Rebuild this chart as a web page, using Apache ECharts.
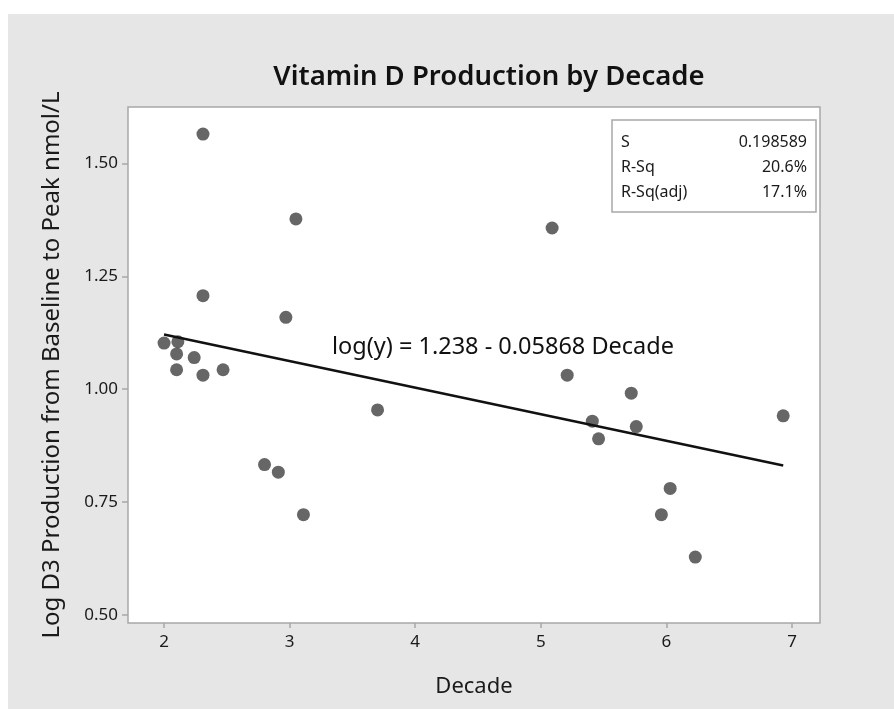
<!DOCTYPE html>
<html>
<head>
<meta charset="utf-8">
<script src="https://cdn.jsdelivr.net/npm/echarts@6/dist/echarts.min.js"></script>
<style>
  body { margin: 0; background: #fff; }
  #panel { position: absolute; left: 8px; top: 14px; width: 886px; height: 695px; background: #e6e6e6; }
  #chart { position: absolute; left: 0; top: 0; width: 894px; height: 709px; }
</style>
</head>
<body>
<div id="panel"></div>
<div id="chart"></div>
<script>
// scatter points
const decade = [2.31, 3.05, 2.31, 2.97, 2.00, 2.11, 2.10, 2.24, 2.10, 2.31, 2.47, 2.80, 2.91, 3.11, 3.70,
                5.09, 5.21, 5.72, 5.41, 5.76, 5.46, 6.93, 6.03, 5.96, 6.23];
const logD3 = [1.565, 1.377, 1.207, 1.159, 1.102, 1.105, 1.078, 1.070, 1.043, 1.031, 1.043, 0.833, 0.816, 0.722, 0.954,
               1.357, 1.031, 0.991, 0.929, 0.917, 0.890, 0.941, 0.780, 0.722, 0.628];
// fitted line end points
const fitX = [2.00, 6.93];
const fitY = [1.121, 0.831];

const xTicks = [2, 3, 4, 5, 6, 7];
const yTicks = [0.50, 0.75, 1.00, 1.25, 1.50];

const statNames = ['S', 'R-Sq', 'R-Sq(adj)'];
const statValues = ['0.198589', '20.6%', '17.1%'];
const equation = 'log(y) = 1.238 - 0.05868 Decade';

const font = 'Noto Sans';

const chart = echarts.init(document.getElementById('chart'));

// stats box in the top right corner
const statTexts = [];
statNames.forEach((name, i) => {
  statTexts.push({
    type: 'text', x: 621, y: 142 + i * 25,
    style: { text: name, font: '16px "' + font + '"', fill: '#1a1a1a', textVerticalAlign: 'middle' }
  });
  statTexts.push({
    type: 'text', x: 807, y: 142 + i * 25,
    style: { text: statValues[i], font: '16px "' + font + '"', fill: '#1a1a1a', textAlign: 'right', textVerticalAlign: 'middle' }
  });
});

const option = {
  animation: false,
  grid: {
    left: 128,
    top: 107,
    width: 692,
    height: 516,
    show: true,
    backgroundColor: '#fff',
    borderColor: '#a8a8a8',
    borderWidth: 1.5,
  },
  xAxis: {
    type: 'value',
    min: 1.713,
    max: 7.223,
    name: 'Decade',
    nameLocation: 'middle',
    nameGap: 53,
    nameTextStyle: { fontFamily: font, fontSize: 22, color: '#1a1a1a' },
    axisLine: { show: false },
    splitLine: { show: false },
    axisTick: {
      show: true, length: 5, customValues: xTicks,
      lineStyle: { color: '#a8a8a8', width: 1.5 }
    },
    axisLabel: {
      customValues: xTicks, margin: 11,
      fontFamily: font, fontSize: 17, color: '#1a1a1a'
    },
  },
  yAxis: {
    type: 'value',
    min: 0.482,
    max: 1.625,
    name: 'Log D3 Production from Baseline to Peak nmol/L',
    nameLocation: 'middle',
    nameRotate: 90,
    nameGap: 64,
    nameTextStyle: { fontFamily: font, fontSize: 24, color: '#1a1a1a' },
    axisLine: { show: false },
    splitLine: { show: false },
    axisTick: {
      show: true, length: 6, customValues: yTicks,
      lineStyle: { color: '#a8a8a8', width: 1.5 }
    },
    axisLabel: {
      customValues: yTicks, margin: 10,
      fontFamily: font, fontSize: 17, color: '#1a1a1a',
      formatter: (v) => v.toFixed(2),
    },
  },
  graphic: [
    {
      type: 'text', x: 489, y: 77,
      style: {
        text: 'Vitamin D Production by Decade',
        font: '600 27.5px "' + font + '"', fill: '#111',
        textAlign: 'center', textVerticalAlign: 'middle'
      }
    },
    {
      type: 'text', x: 503, y: 347,
      style: {
        text: equation, font: '23.5px "' + font + '"', fill: '#111',
        textAlign: 'center', textVerticalAlign: 'middle'
      }
    },
    {
      type: 'rect',
      shape: { x: 612, y: 120, width: 204, height: 92 },
      style: { fill: '#fff', stroke: '#a8a8a8', lineWidth: 1.5 }
    },
    ...statTexts
  ],
  series: [
    {
      type: 'scatter',
      symbolSize: 13,
      itemStyle: { color: '#404040' },
      data: decade.map((d, i) => [d, logD3[i]]),
      z: 2,
    },
    {
      type: 'line',
      symbol: 'none',
      lineStyle: { color: '#111', width: 2.5 },
      data: fitX.map((d, i) => [d, fitY[i]]),
      z: 3,
    }
  ]
};

chart.setOption(option);
</script>
</body>
</html>
